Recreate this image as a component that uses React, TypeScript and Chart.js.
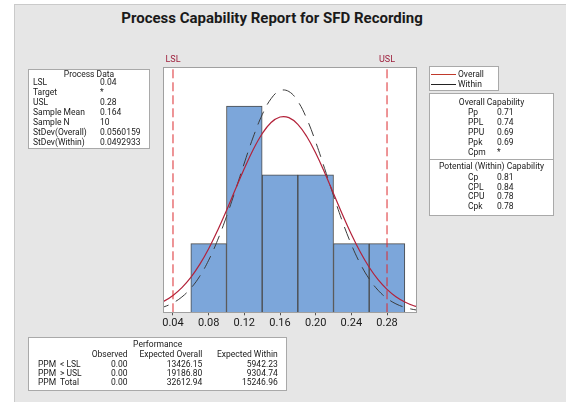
import React, { useEffect, useRef } from "react";
import { Chart, registerables } from "chart.js";
Chart.register(...registerables);

const LSL = 0.04;
const USL = 0.28;
const xTicks = [0.04, 0.08, 0.12, 0.16, 0.2, 0.24, 0.28];
const binCenters = [0.08, 0.12, 0.16, 0.2, 0.24, 0.28];
const binCounts = [1, 3, 2, 2, 1, 1];
const curveX = [0.02, 0.03, 0.04, 0.05, 0.06, 0.07, 0.08, 0.09, 0.1, 0.11, 0.12, 0.13, 0.14, 0.15, 0.16, 0.17, 0.18, 0.19, 0.2, 0.21, 0.22, 0.23, 0.24, 0.25, 0.26, 0.27, 0.28, 0.29, 0.3, 0.31, 0.32];
const overallCurve = [0.105, 0.163, 0.246, 0.359, 0.508, 0.697, 0.925, 1.191, 1.483, 1.79, 2.093, 2.37, 2.599, 2.762, 2.842, 2.833, 2.735, 2.558, 2.317, 2.034, 1.729, 1.423, 1.135, 0.877, 0.656, 0.475, 0.334, 0.227, 0.15, 0.095, 0.059];
const withinCurve = [0.045, 0.08, 0.137, 0.223, 0.35, 0.525, 0.758, 1.049, 1.394, 1.776, 2.173, 2.552, 2.875, 3.109, 3.226, 3.213, 3.071, 2.817, 2.479, 2.094, 1.698, 1.321, 0.986, 0.707, 0.486, 0.321, 0.203, 0.123, 0.072, 0.04, 0.022];

const processLabels = ["LSL", "Target", "USL", "Sample Mean", "Sample N", "StDev(Overall)", "StDev(Within)"];
const processValues = ["0.04", "*", "0.28", "0.164", "10", "0.0560159", "0.0492933"];
const overallCapLabels = ["Pp", "PPL", "PPU", "Ppk", "Cpm"];
const overallCapValues = ["0.71", "0.74", "0.69", "0.69", "*"];
const withinCapLabels = ["Cp", "CPL", "CPU", "Cpk"];
const withinCapValues = ["0.81", "0.84", "0.78", "0.78"];
const perfRows = ["< LSL", "> USL", "Total"];
const perfObserved = ["0.00", "0.00", "0.00"];
const perfExpOverall = ["13426.15", "19186.80", "32612.94"];
const perfExpWithin = ["5942.23", "9304.74", "15246.96"];

const X_MIN = 0.0288;
const X_MAX = 0.3125;
const Y_MAX = 3.57;

const W = 566;
const H = 402;
const FONT = "Roboto, 'Liberation Sans', sans-serif";

function Txt(props: { x: number; y: number; text: string; align?: string; size?: number; bold?: boolean; color?: string }) {
  const { x, y, text, align = "left", size = 8.5, bold = false, color = "#1a1a1a" } = props;
  const style: any = {
    position: "absolute",
    top: y - 7,
    height: 14,
    lineHeight: "14px",
    fontSize: size,
    fontFamily: FONT,
    fontWeight: bold ? 700 : 400,
    whiteSpace: "nowrap",
    color,
  };
  if (align === "left") style.left = x;
  else if (align === "right") style.right = W - x;
  else {
    style.left = x;
    style.transform = "translateX(-50%)";
  }
  return <div style={style}>{text}</div>;
}

function Box(props: { x: number; y: number; w: number; h: number }) {
  return (
    <div
      style={{
        position: "absolute",
        left: props.x,
        top: props.y,
        width: props.w,
        height: props.h,
        background: "#ffffff",
        border: "1px solid #a9a9a9",
        boxSizing: "border-box",
      }}
    />
  );
}

export default function App() {
  const ref = useRef<HTMLCanvasElement | null>(null);

  useEffect(() => {
    if (!ref.current) return;
    const plotDeco = {
      id: "plotDeco",
      beforeDraw(c: any) {
        const { ctx, chartArea: a } = c;
        ctx.save();
        ctx.fillStyle = "#ffffff";
        ctx.fillRect(a.left, a.top, a.right - a.left, a.bottom - a.top);
        ctx.restore();
      },
      afterDraw(c: any) {
        const { ctx, chartArea: a, scales } = c;
        ctx.save();
        ctx.strokeStyle = "#a0a0a0";
        ctx.lineWidth = 1;
        ctx.strokeRect(Math.round(a.left) + 0.5, Math.round(a.top) + 0.5, Math.round(a.right - a.left), Math.round(a.bottom - a.top));
        ctx.fillStyle = "#9e1f3c";
        ctx.font = "9px " + FONT;
        ctx.textAlign = "center";
        ctx.textBaseline = "middle";
        ctx.fillText("LSL", scales.x.getPixelForValue(LSL), a.top - 7);
        ctx.fillText("USL", scales.x.getPixelForValue(USL), a.top - 7);
        ctx.restore();
      },
    };

    const chart = new Chart(ref.current, {
      type: "bar",
      data: {
        datasets: [
          {
            type: "line",
            label: "LSL",
            data: [{ x: LSL, y: 0 }, { x: LSL, y: Y_MAX }],
            borderColor: "#dc2b2f",
            borderWidth: 1,
            borderDash: [9, 4],
            pointRadius: 0,
            order: 0,
          },
          {
            type: "line",
            label: "USL",
            data: [{ x: USL, y: 0 }, { x: USL, y: Y_MAX }],
            borderColor: "#dc2b2f",
            borderWidth: 1,
            borderDash: [9, 4],
            pointRadius: 0,
            order: 0,
          },
          {
            type: "line",
            label: "Overall",
            data: curveX.map((x, i) => ({ x, y: overallCurve[i] })),
            borderColor: "#b3223a",
            borderWidth: 1.2,
            pointRadius: 0,
            tension: 0.4,
            order: 1,
          },
          {
            type: "line",
            label: "Within",
            data: curveX.map((x, i) => ({ x, y: withinCurve[i] })),
            borderColor: "#3c3c3c",
            borderWidth: 1,
            borderDash: [14, 8],
            pointRadius: 0,
            tension: 0.4,
            order: 2,
          },
          {
            type: "bar",
            label: "Count",
            data: binCenters.map((x, i) => ({ x, y: binCounts[i] })),
            backgroundColor: "#7ca6da",
            borderColor: "#4a4a4a",
            borderWidth: 1,
            barPercentage: 1,
            categoryPercentage: 1,
            order: 5,
          },
        ] as any,
      },
      options: {
        animation: false,
        responsive: false,
        maintainAspectRatio: false,
        layout: { padding: { left: 163, right: 150, top: 67, bottom: 71.5 } },
        plugins: { legend: { display: false }, tooltip: { enabled: false }, title: { display: false } },
        scales: {
          x: {
            type: "linear",
            min: X_MIN,
            max: X_MAX,
            offset: false,
            afterBuildTicks: (s: any) => {
              s.ticks = xTicks.map((v) => ({ value: v }));
            },
            ticks: {
              callback: (v: any) => Number(v).toFixed(2),
              font: { family: FONT, size: 11 },
              color: "#1a1a1a",
              padding: 1,
              maxRotation: 0,
              autoSkip: false,
            },
            grid: { drawOnChartArea: false, tickLength: 3, color: "#555555", offset: false },
            border: { color: "#a0a0a0" },
          },
          y: { display: false, min: 0, max: Y_MAX },
        },
      } as any,
      plugins: [plotDeco],
    });
    return () => chart.destroy();
  }, []);

  const procTop = 82;
  const capTop = 112.3;
  const withinTop = 176.6;
  const perfTop = 364;

  return (
    <div style={{ position: "fixed", left: 0, top: 0, width: W, height: H, background: "#ffffff", overflow: "hidden" }}>
      <div
        style={{
          position: "absolute",
          left: 14,
          top: 4,
          right: 0,
          bottom: 0,
          background: "#e6e6e6",
          borderLeft: "1px solid #cacaca",
          borderTop: "1px solid #cacaca",
        }}
      />
      <Txt x={272} y={18} text="Process Capability Report for SFD Recording" align="center" size={15} bold />

      <Box x={28} y={69} w={122} h={80} />
      <Box x={429} y={66} w={70} h={25} />
      <Box x={429} y={93} w={125} h={123} />
      <div style={{ position: "absolute", left: 429, top: 159, width: 125, height: 1, background: "#a9a9a9" }} />
      <Box x={28} y={337} w={259} h={54} />

      <canvas ref={ref} width={W} height={H} style={{ position: "absolute", left: 0, top: 0, width: W, height: H }} />

      <Txt x={89} y={74} text="Process Data" align="center" />
      {processLabels.map((t, i) => (
        <Txt key={"pl" + i} x={33} y={procTop + i * 10} text={t} />
      ))}
      {processValues.map((t, i) => (
        <Txt key={"pv" + i} x={100} y={procTop + i * 10} text={t} />
      ))}

      <div style={{ position: "absolute", left: 431, top: 74, width: 25, height: 1, background: "#c0392b" }} />
      <div style={{ position: "absolute", left: 431, top: 84, width: 25, height: 1, background: "#222222" }} />
      <Txt x={458} y={74} text="Overall" />
      <Txt x={458} y={84} text="Within" />

      <Txt x={491.5} y={101.7} text="Overall Capability" align="center" />
      {overallCapLabels.map((t, i) => (
        <Txt key={"ol" + i} x={468} y={capTop + i * 9.85} text={t} />
      ))}
      {overallCapValues.map((t, i) => (
        <Txt key={"ov" + i} x={497} y={capTop + i * 9.85} text={t} />
      ))}
      <Txt x={491.5} y={165.7} text="Potential (Within) Capability" align="center" />
      {withinCapLabels.map((t, i) => (
        <Txt key={"wl" + i} x={468} y={withinTop + i * 9.9} text={t} />
      ))}
      {withinCapValues.map((t, i) => (
        <Txt key={"wv" + i} x={497} y={withinTop + i * 9.9} text={t} />
      ))}

      <Txt x={157.7} y={344.3} text="Performance" align="center" />
      <Txt x={127.5} y={354} text="Observed" align="right" />
      <Txt x={202.3} y={354} text="Expected Overall" align="right" />
      <Txt x={277.7} y={354} text="Expected Within" align="right" />
      {perfRows.map((t, i) => (
        <React.Fragment key={"pr" + i}>
          <Txt x={38} y={perfTop + i * 9.2} text="PPM" />
          <Txt x={60} y={perfTop + i * 9.2} text={t} />
          <Txt x={127.5} y={perfTop + i * 9.2} text={perfObserved[i]} align="right" />
          <Txt x={202.3} y={perfTop + i * 9.2} text={perfExpOverall[i]} align="right" />
          <Txt x={277.7} y={perfTop + i * 9.2} text={perfExpWithin[i]} align="right" />
        </React.Fragment>
      ))}
    </div>
  );
}
